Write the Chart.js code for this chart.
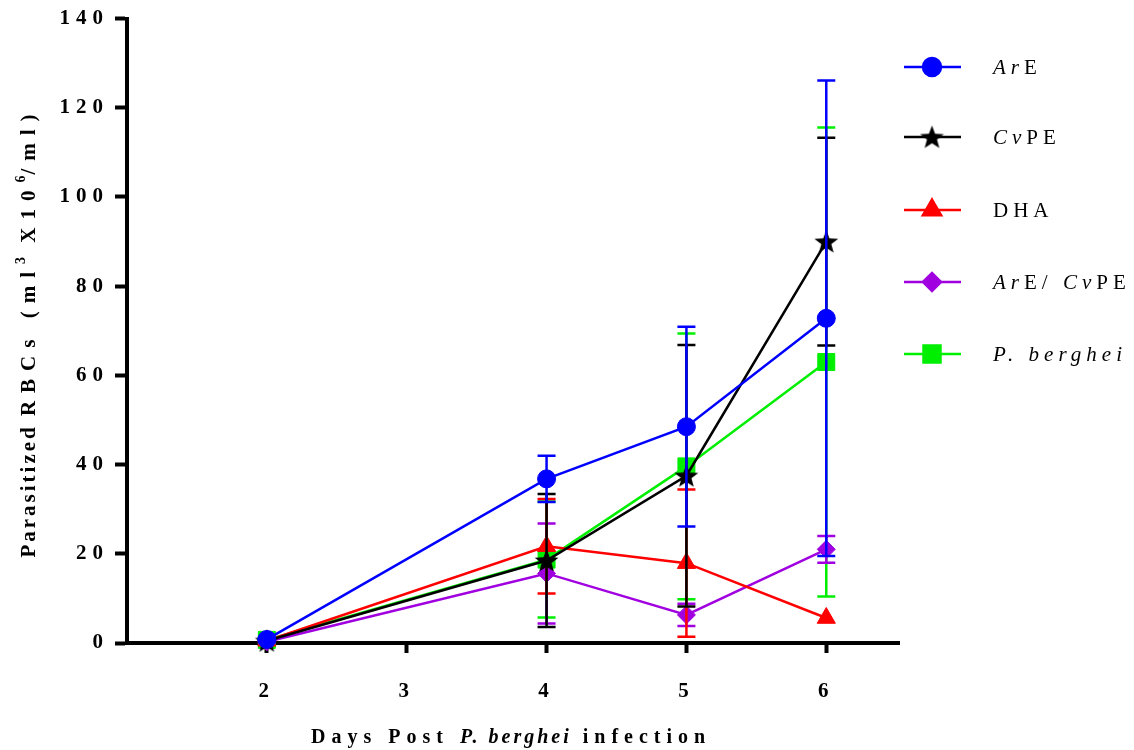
<!DOCTYPE html>
<html>
<head>
<meta charset="utf-8">
<title>Parasitized RBCs</title>
<script src="https://cdn.jsdelivr.net/npm/chart.js"></script>
<style>
  html, body { margin: 0; padding: 0; background: #fff; }
  #wrap { width: 1134px; height: 750px; position: relative; }
</style>
</head>
<body>
<div id="wrap"><canvas id="rbcChart"></canvas></div>
<script>
// data (mean and SD per day)
const days = [2, 4, 5, 6];
const yTicks = [0, 20, 40, 60, 80, 100, 120, 140];
const xTicks = [2, 3, 4, 5, 6];

const areMean = [0.8, 36.8, 48.5, 72.8];
const areSd = [0.3, 5.2, 22.4, 53.3];
const cvpeMean = [0.5, 18.5, 37.5, 90.0];
const cvpeSd = [0.2, 14.9, 29.3, 23.3];
const dhaMean = [0.5, 21.7, 17.9, 5.6];
const dhaSd = [0.2, 10.6, 16.5, 0];
const comboMean = [0.3, 15.6, 6.3, 21.0];
const comboSd = [0.2, 11.2, 2.5, 3.0];
const pbMean = [0.7, 18.7, 39.6, 63.0];
const pbSd = [0.3, 13.0, 29.8, 52.6];

const SERIF = "'Liberation Serif', 'Times New Roman', serif";

// filled five point star for CvPE
function makeStar(size) {
  const c = document.createElement('canvas');
  c.width = size; c.height = size;
  const g = c.getContext('2d');
  const cx = size / 2, cy = size / 2 + 1, R = size / 2, r = R * 0.42;
  g.beginPath();
  for (let i = 0; i < 10; i++) {
    const rad = -Math.PI / 2 + i * Math.PI / 5;
    const rr = i % 2 === 0 ? R : r;
    g.lineTo(cx + rr * Math.cos(rad), cy + rr * Math.sin(rad));
  }
  g.closePath();
  g.fillStyle = '#000';
  g.fill();
  return c;
}
const star = makeStar(25);

const series = [
  { label: [['Ar', true], ['E', false]], mean: areMean, sd: areSd, color: '#0000ff', style: 'circle', radius: 9 },
  { label: [['C', true], ['v', true], ['PE', false]], mean: cvpeMean, sd: cvpeSd, color: '#000000', style: star, radius: 12 },
  { label: [['DHA', false]], mean: dhaMean, sd: dhaSd, color: '#ff0000', style: 'triangle', radius: 10.5 },
  { label: [['Ar', true], ['E/ ', false], ['Cv', true], ['PE', false]], mean: comboMean, sd: comboSd, color: '#a000e0', style: 'rectRot', radius: 9 },
  { label: [['P. berghei', true]], mean: pbMean, sd: pbSd, color: '#00ee00', style: 'rect', radius: 12 }
];

const datasets = series.map(s => ({
  label: s.label.map(p => p[0]).join(''),
  data: days.map((d, i) => ({ x: d, y: s.mean[i] })),
  borderColor: s.color,
  backgroundColor: s.color,
  borderWidth: 2.5,
  pointStyle: s.style,
  pointRadius: s.radius,
  pointHoverRadius: s.radius,
  pointBorderWidth: 1,
  pointBackgroundColor: s.color,
  pointBorderColor: s.color,
  tension: 0,
  clip: false
}));

// error bars drawn under each dataset's own line
const errorBars = {
  id: 'errorBars',
  beforeDatasetDraw(chart, args) {
    const s = series[args.index];
    const xs = chart.scales.x, ys = chart.scales.y;
    const ctx = chart.ctx;
    ctx.save();
    ctx.strokeStyle = s.color;
    ctx.lineWidth = 2.5;
    days.forEach((d, i) => {
      if (!s.sd[i]) return;
      const x = xs.getPixelForValue(d);
      const hi = ys.getPixelForValue(s.mean[i] + s.sd[i]);
      const lo = ys.getPixelForValue(Math.max(0, s.mean[i] - s.sd[i]));
      ctx.beginPath();
      ctx.moveTo(x, hi); ctx.lineTo(x, lo);
      ctx.moveTo(x - 9, hi); ctx.lineTo(x + 9, hi);
      ctx.moveTo(x - 9, lo); ctx.lineTo(x + 9, lo);
      ctx.stroke();
    });
    ctx.restore();
  }
};

// draws a run of [text, italic, sup] parts, returns width
function drawParts(ctx, parts, x, y, weight, size, spacing, measureOnly) {
  let cx = x;
  parts.forEach(([t, it, sup]) => {
    const fs = sup ? Math.round(size * 0.65) : size;
    ctx.font = (it ? 'italic ' : '') + weight + ' ' + fs + 'px ' + SERIF;
    ctx.letterSpacing = (sup ? 1 : spacing) + 'px';
    if (!measureOnly) ctx.fillText(t, cx, sup ? y - size * 0.4 : y);
    cx += ctx.measureText(t).width;
  });
  return cx - x;
}

const textStuff = {
  id: 'textStuff',
  beforeDraw(chart) {
    chart.ctx.letterSpacing = '6px';
  },
  afterDraw(chart) {
    const ctx = chart.ctx;
    ctx.save();
    ctx.fillStyle = '#000';
    ctx.textBaseline = 'middle';
    ctx.textAlign = 'left';

    // x axis title
    let x = 311;
    x += drawParts(ctx, [['Days Post ', false]], x, 738, 'bold', 20, 6, false);
    x += drawParts(ctx, [['P. berghei', true]], x, 738, 'bold', 20, 3, false);
    drawParts(ctx, [[' infection', false]], x, 738, 'bold', 20, 6, false);

    // y axis title
    ctx.save();
    ctx.translate(30, 332);
    ctx.rotate(-Math.PI / 2);
    const yParts = [['RBCs (ml', false], ['3', false, true], [' X10', false], ['6', false, true], ['/ml)', false]];
    const w1 = drawParts(ctx, [['Parasitized ', false]], 0, 0, 'bold', 21, 3, true);
    const w2 = drawParts(ctx, yParts, 0, 0, 'bold', 21, 8, true);
    const start = -(w1 + w2) / 2;
    drawParts(ctx, [['Parasitized ', false]], start, 0, 'bold', 21, 3, false);
    drawParts(ctx, yParts, start + w1, 0, 'bold', 21, 8, false);
    ctx.restore();

    // legend
    const rows = [67, 137, 210, 282, 354];
    series.forEach((s, i) => {
      const y = rows[i];
      ctx.strokeStyle = s.color;
      ctx.fillStyle = s.color;
      ctx.lineWidth = 2.5;
      ctx.beginPath();
      ctx.moveTo(904, y); ctx.lineTo(961, y);
      ctx.stroke();
      Chart.helpers.drawPoint(ctx, { pointStyle: s.style, radius: s.radius, rotation: 0, borderWidth: 1 }, 932, y);
      ctx.fillStyle = '#000';
      drawParts(ctx, s.label, 993, y + 1, 'normal', 21, 5, false);
    });
    ctx.restore();
    ctx.letterSpacing = '0px';
  }
};

const tickFont = { family: SERIF, size: 21, weight: 'bold' };

new Chart(document.getElementById('rbcChart'), {
  type: 'line',
  data: { datasets: datasets },
  plugins: [errorBars, textStuff],
  options: {
    responsive: true,
    maintainAspectRatio: false,
    animation: false,
    layout: { padding: { top: 16, right: 235, left: 0, bottom: 0 } },
    plugins: {
      legend: { display: false },
      tooltip: { enabled: false }
    },
    scales: {
      x: {
        type: 'linear',
        min: 1,
        max: 6.52,
        afterBuildTicks: scale => { scale.ticks = xTicks.map(v => ({ value: v })); },
        afterFit: scale => { scale.height = 107; },
        ticks: { font: tickFont, color: '#000', padding: 26 },
        grid: { drawOnChartArea: false, drawTicks: true, tickLength: 10, tickWidth: 4, color: '#000' },
        border: { display: true, width: 4, color: '#000' }
      },
      y: {
        min: 0,
        max: 140,
        afterBuildTicks: scale => { scale.ticks = yTicks.map(v => ({ value: v })); },
        afterFit: scale => { scale.width = 127; },
        ticks: { font: tickFont, color: '#000', padding: 6 },
        grid: { drawOnChartArea: false, drawTicks: true, tickLength: 12, tickWidth: 4, color: '#000' },
        border: { display: true, width: 4, color: '#000' }
      }
    }
  }
});
</script>
</body>
</html>
